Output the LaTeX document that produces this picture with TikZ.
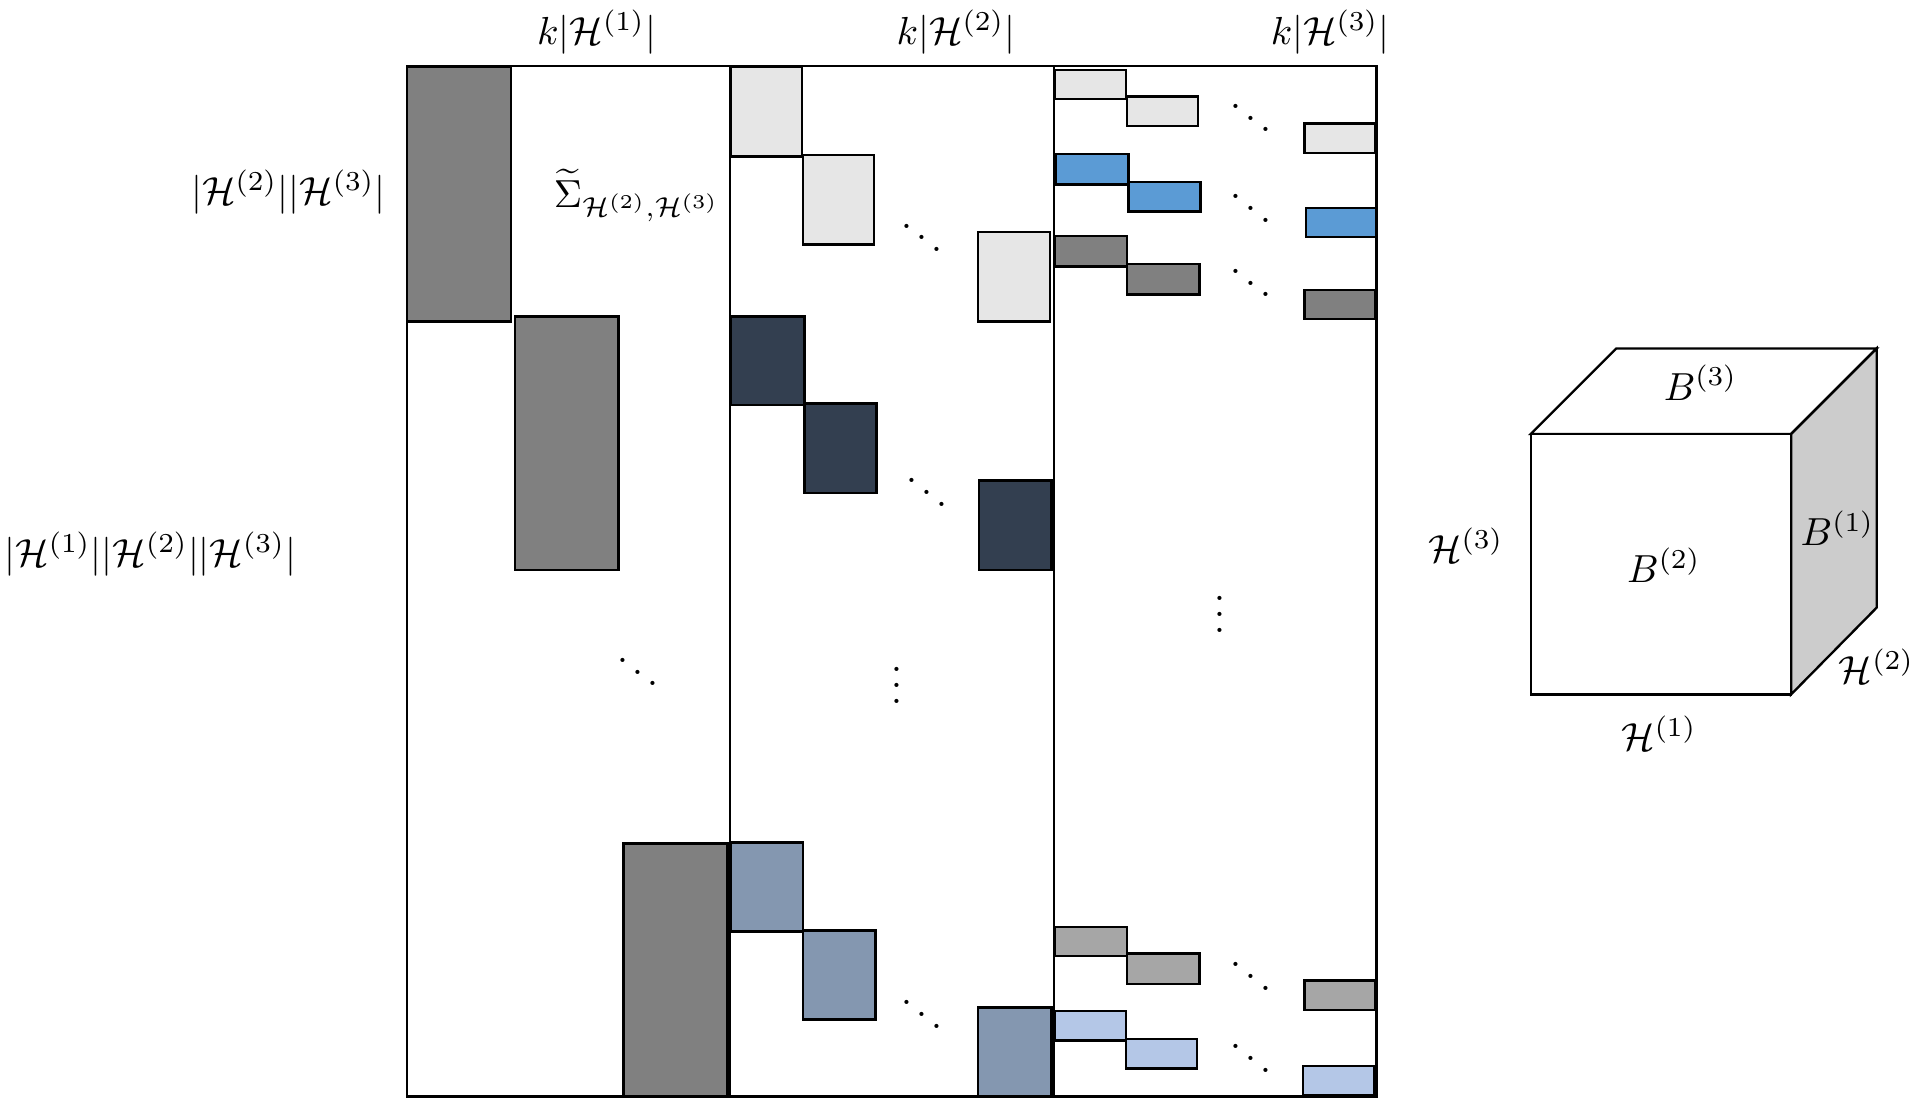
\documentclass[tikz,border=0pt]{standalone}
\usepackage{amsmath,amssymb}
\definecolor{cgray}{HTML}{808080}
\definecolor{clight}{HTML}{E6E6E6}
\definecolor{cnavy}{HTML}{333F50}
\definecolor{csteel}{HTML}{8497B0}
\definecolor{cblue}{HTML}{5B9BD5}
\definecolor{cmid}{HTML}{A6A6A6}
\definecolor{clblue}{HTML}{B4C7E7}
\definecolor{cside}{HTML}{CCCCCC}
\newcommand\blk[5]{\draw[blockline,fill=#1] (#2,#3) rectangle (#4,#5);}
\begin{document}
\begin{tikzpicture}[x=0.3125pt,y=-0.3125pt,
  blockline/.style={line width=0.6pt,draw=black},
  frame/.style={line width=0.6pt,draw=black},
  lbl/.style={inner sep=0pt,font=\fontsize{10.4pt}{12pt}\selectfont},
  dts/.style={inner sep=0pt}]
\useasboundingbox (0,0) rectangle (1568,899);
% matrix frame
\draw[frame] (333,54) rectangle (1126,897);
% column 1
\blk{cgray}{333}{55}{418}{263}
\blk{cgray}{421}{259}{506}{466}
\blk{cgray}{510}{690}{595}{897}
% column 2
\blk{clight}{598}{55}{656}{128}
\blk{clight}{657}{127}{715}{200}
\blk{clight}{800}{190}{859}{263}
\blk{cnavy}{598}{259}{658}{331}
\blk{cnavy}{658}{330}{717}{403}
\blk{cnavy}{801}{393}{860}{466}
\blk{csteel}{598}{689}{657}{762}
\blk{csteel}{657}{761}{716}{834}
\blk{csteel}{800}{824}{860}{897}
% column 3
\blk{clight}{863}{57}{921}{81}
\blk{clight}{922}{79}{980}{103}
\blk{clight}{1067}{101}{1125}{125}
\blk{cblue}{864}{126}{923}{151}
\blk{cblue}{923}{149}{982}{173}
\blk{cblue}{1068}{170}{1126}{194}
\blk{cgray}{863}{193}{922}{218}
\blk{cgray}{922}{216}{981}{241}
\blk{cgray}{1067}{237}{1125}{261}
\blk{cmid}{863}{758}{922}{782}
\blk{cmid}{922}{780}{981}{805}
\blk{cmid}{1067}{802}{1125}{826}
\blk{clblue}{863}{827}{921}{851}
\blk{clblue}{921}{850}{979}{874}
\blk{clblue}{1066}{872}{1124}{896}
% column separators
\draw[frame] (597,54) -- (597,897);
\draw[frame] (862,54) -- (862,897);
% dots
\node[dts] (d1) at (522,540) {$\ddots$};
\node[dts] (d2) at (754,185) {$\ddots$};
\node[dts] (d3) at (758,393) {$\ddots$};
\node[dts] (d4) at (734,551) {$\vdots$};
\node[dts] (d5) at (754,820) {$\ddots$};
\node[dts] (d6) at (1023,87) {$\ddots$};
\node[dts] (d7) at (1023,161) {$\ddots$};
\node[dts] (d8) at (1023,222) {$\ddots$};
\node[dts] (d9) at (998,493) {$\vdots$};
\node[dts] (d10) at (1023,789) {$\ddots$};
\node[dts] (d11) at (1023,856) {$\ddots$};
% labels
\node[lbl] (t1) at (488,26) {$k|\mathcal{H}^{(1)}|$};
\node[lbl] (t2) at (782,26) {$k|\mathcal{H}^{(2)}|$};
\node[lbl] (t3) at (1088,26) {$k|\mathcal{H}^{(3)}|$};
\node[lbl] (l1) at (236,157) {$|\mathcal{H}^{(2)}||\mathcal{H}^{(3)}|$};
\node[lbl] (l2) at (123,453) {$|\mathcal{H}^{(1)}||\mathcal{H}^{(2)}||\mathcal{H}^{(3)}|$};
\node[lbl] (sig) at (521,160) {$\widetilde{\Sigma}_{\mathcal{H}^{(2)},\mathcal{H}^{(3)}}$};
% cube
\draw[blockline,fill=white] (1252,355) -- (1322,285) -- (1535,285) -- (1465,355) -- cycle;
\draw[blockline,fill=cside] (1465,355) -- (1535,285) -- (1535,497) -- (1465,568) -- cycle;
\draw[blockline,fill=white] (1252,355) rectangle (1465,568);
\node[lbl] (b3) at (1391,313) {$B^{(3)}$};
\node[lbl] (b2) at (1361,462) {$B^{(2)}$};
\node[lbl] (b1) at (1503,432) {$B^{(1)}$};
\node[lbl] (h3) at (1199,446) {$\mathcal{H}^{(3)}$};
\node[lbl] (h2) at (1535,545) {$\mathcal{H}^{(2)}$};
\node[lbl] (h1) at (1357,600) {$\mathcal{H}^{(1)}$};
\end{tikzpicture}
\end{document}
